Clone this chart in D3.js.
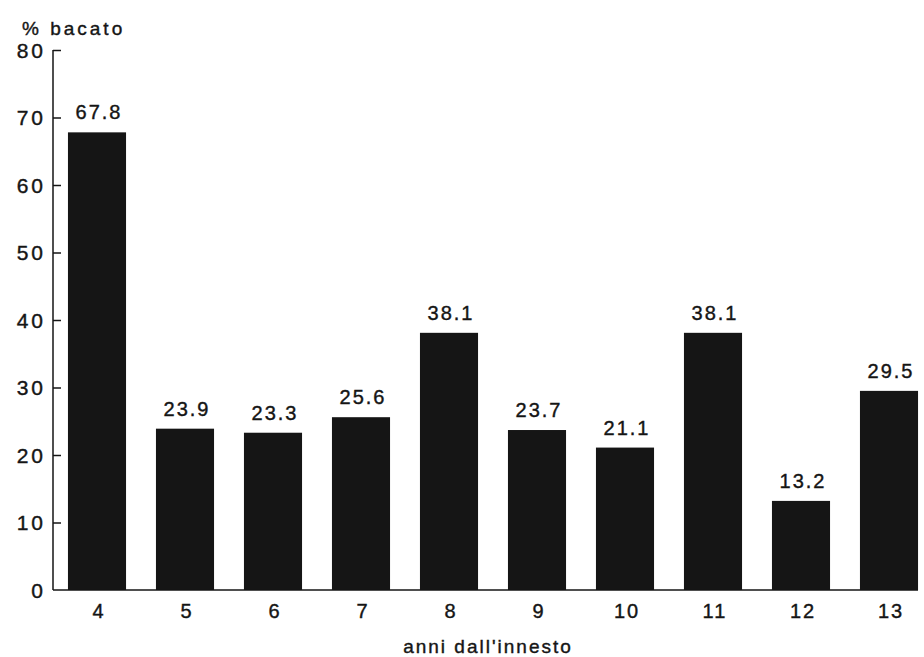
<!DOCTYPE html>
<html><head><meta charset="utf-8">
<script src="https://cdn.jsdelivr.net/npm/d3@7"></script>
<style>body{margin:0;background:#fff}svg text{font-family:"Liberation Sans",Arial,sans-serif;fill:#151515;stroke:#151515;stroke-width:0.4px}</style>
</head><body>
<svg id="c" width="924" height="657"></svg>
<script>
const categories = ["4","5","6","7","8","9","10","11","12","13"];
const values = [67.8, 23.9, 23.3, 25.6, 38.1, 23.7, 21.1, 38.1, 13.2, 29.5];
const yTicks = [0,10,20,30,40,50,60,70,80];
const yTitle = "% bacato";
const xTitle = "anni dall'innesto";

const svg = d3.select("#c");
const x0 = 53, y0 = 590, yTop = 50;
const x = d3.scaleBand().domain(categories).range([x0, 933]).paddingInner(0.34).paddingOuter(0.17);
const y = d3.scaleLinear().domain([0, 80]).range([y0, yTop]);
const ink = "#151515";

svg.selectAll("rect.bar").data(values).join("rect")
  .attr("x", (d,i)=>x(categories[i])).attr("width", x.bandwidth())
  .attr("y", d=>y(d)).attr("height", d=>y0 - y(d)).attr("fill", ink);

svg.selectAll("text.val").data(values).join("text")
  .attr("x", (d,i)=>x(categories[i]) + x.bandwidth()/2 + 2)
  .attr("y", d=>y(d) - 13).attr("text-anchor","middle")
  .style("font-size","20px").style("letter-spacing","2px")
  .text(d=>d.toFixed(1));

// y axis with inward ticks
const yAxis = d3.axisRight(y).tickValues(yTicks).tickSize(8).tickFormat("");
const gy = svg.append("g").attr("transform", `translate(${x0},0)`).call(yAxis);
gy.select(".domain").remove();
gy.selectAll(".tick line").attr("stroke", ink).attr("stroke-width", 1.5);
gy.selectAll(".tick").filter(d=>d===0).remove();
svg.append("line").attr("x1", x0).attr("x2", x0).attr("y1", yTop).attr("y2", y0)
  .attr("stroke", ink).attr("stroke-width", 1.5);
svg.selectAll("text.yl").data(yTicks).join("text")
  .attr("x", 46).attr("y", d=>y(d) + 7.5).attr("text-anchor","end")
  .style("font-size","21px").style("letter-spacing","3px").text(d=>d);

// baseline
svg.append("line").attr("x1", x0).attr("x2", x(categories[categories.length-1]) + x.bandwidth())
  .attr("y1", y0).attr("y2", y0).attr("stroke", ink).attr("stroke-width", 1.5);

// x labels
svg.selectAll("text.xl").data(categories).join("text")
  .attr("x", d=>x(d) + x.bandwidth()/2 + 2).attr("y", 618).attr("text-anchor","middle")
  .style("font-size","20px").style("letter-spacing","2px").text(d=>d);

svg.append("text").attr("x", 22).attr("y", 35).style("font-size","19px").style("letter-spacing","3px").text(yTitle);
svg.append("text").attr("x", 488).attr("y", 653).attr("text-anchor","middle")
  .style("font-size","19px").style("letter-spacing","2px").text(xTitle);
</script>
</body></html>
